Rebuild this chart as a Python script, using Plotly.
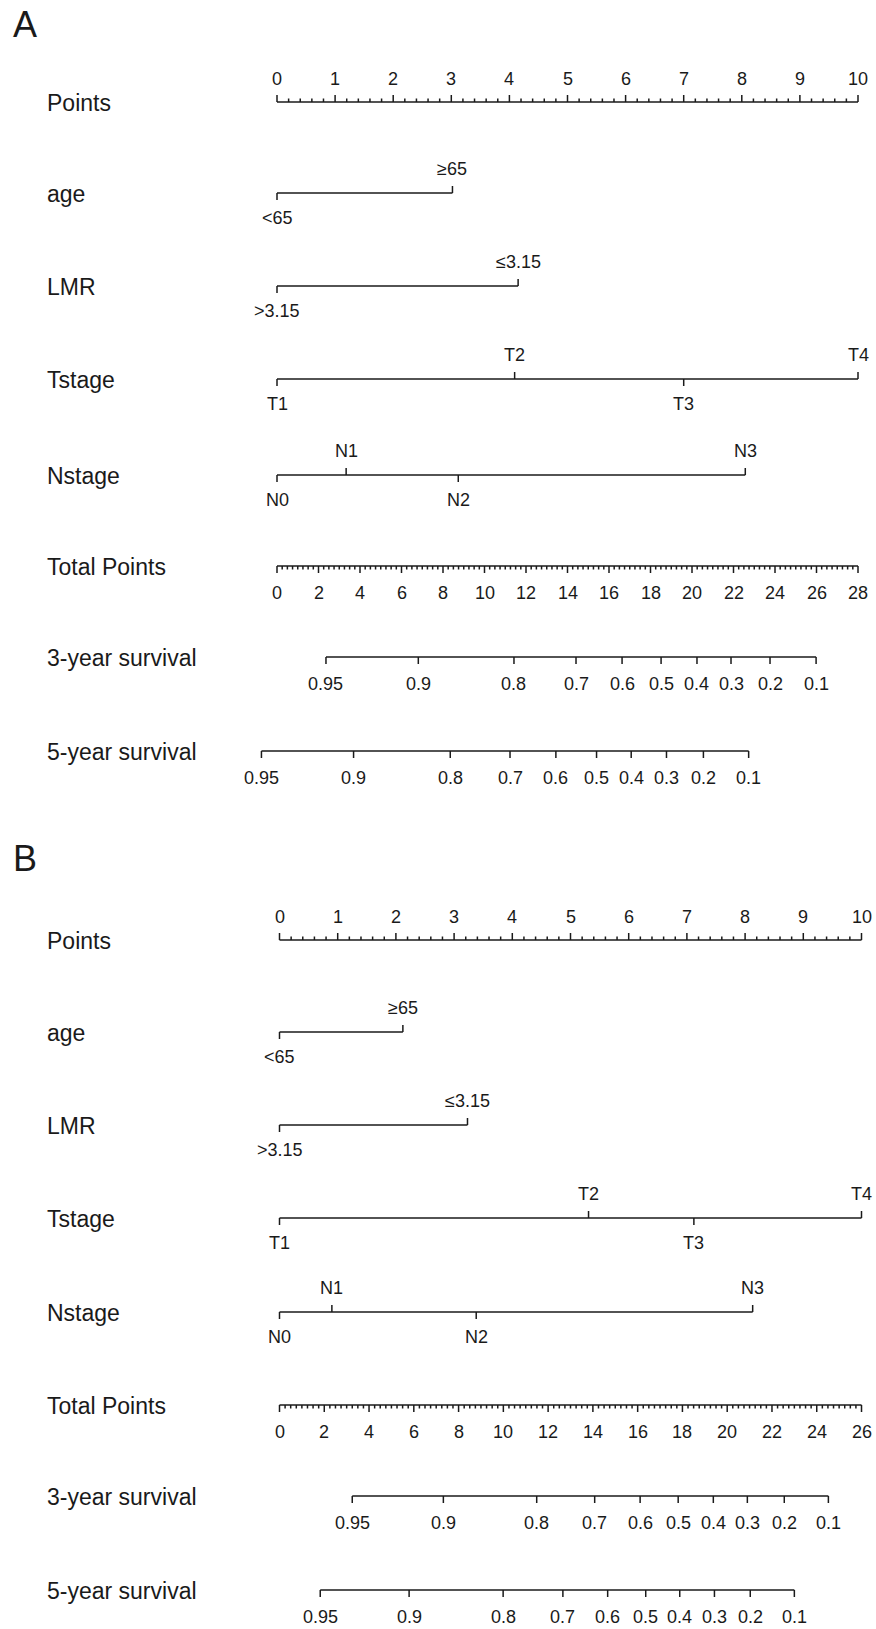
import numpy as np
import plotly.graph_objects as go

# ---------------- DATA ----------------
row_labels = ["Points", "age", "LMR", "Tstage", "Nstage", "Total Points",
              "3-year survival", "5-year survival"]

points_ticks = list(range(0, 11))

age_levels = ["<65", "≥65"]
age_points_A = [0, 3.02]
age_points_B = [0, 2.12]

lmr_levels = [">3.15", "≤3.15"]
lmr_points_A = [0, 4.15]
lmr_points_B = [0, 3.23]

t_levels = ["T1", "T2", "T3", "T4"]
t_points_A = [0, 4.09, 7.00, 10]
t_points_B = [0, 5.31, 7.12, 10]

n_levels = ["N0", "N1", "N2", "N3"]
n_points_A = [0, 1.19, 3.12, 8.06]
n_points_B = [0, 0.90, 3.38, 8.13]

total_ticks_A = list(range(0, 29, 2))
total_ticks_B = list(range(0, 27, 2))

surv_labels = ["0.95", "0.9", "0.8", "0.7", "0.6", "0.5", "0.4", "0.3", "0.2", "0.1"]
surv3_total_A = [2.36, 6.81, 11.42, 14.41, 16.63, 18.51, 20.24, 21.88, 23.76, 25.98]
surv5_total_A = [-0.75, 3.69, 8.35, 11.23, 13.44, 15.40, 17.07, 18.77, 20.55, 22.73]
surv3_total_B = [3.25, 7.32, 11.49, 14.08, 16.11, 17.81, 19.38, 20.90, 22.55, 24.52]
surv5_total_B = [1.82, 5.79, 9.99, 12.66, 14.66, 16.36, 17.88, 19.43, 21.03, 23.00]

# ---------------- LAYOUT / STYLE ----------------
W, H = 876, 1629
FONT = "Arial, Liberation Sans, Helvetica, sans-serif"
INK = "#1a1a1a"
LW = 1.5
LAB_SIZE = 23
TICK_SIZE = 18
TICK = 7
MINOR = 3.5

# label side for each level (-1 = above line, +1 = below line)
age_sides = [1, -1]
lmr_sides = [1, -1]
t_sides = [1, -1, 1, -1]
n_sides = [1, -1, 1, -1]

panels = {
    "A": dict(letter_y=25, rows=[102, 193, 286, 379, 475, 566, 657, 751],
              px0=277.0, px_pts=58.1, px_tot=20.75,
              xp="x", xt="x2",
              age=age_points_A, lmr=lmr_points_A, t=t_points_A, n=n_points_A,
              total=total_ticks_A, s3=surv3_total_A, s5=surv5_total_A),
    "B": dict(letter_y=858, rows=[940, 1032, 1125, 1218, 1312, 1405, 1496, 1590],
              px0=279.5, px_pts=58.2, px_tot=22.385,
              xp="x3", xt="x4",
              age=age_points_B, lmr=lmr_points_B, t=t_points_B, n=n_points_B,
              total=total_ticks_B, s3=surv3_total_B, s5=surv5_total_B),
}

fig = go.Figure()
annotations = []


def add_lines(xs, ys, xref):
    fig.add_trace(go.Scatter(x=xs, y=ys, mode="lines", xaxis=xref, yaxis="y",
                             line=dict(color=INK, width=LW), hoverinfo="skip",
                             showlegend=False))


def add_text(x, y, text, xref, size=TICK_SIZE, xanchor="center"):
    annotations.append(dict(x=x, y=y, xref=xref, yref="y", text=text,
                            showarrow=False, xanchor=xanchor, yanchor="middle",
                            font=dict(family=FONT, size=size, color=INK)))


def ax_name(ref):
    return ref.replace("x", "xaxis") if ref != "x" else "xaxis"


for key, p in panels.items():
    rows = p["rows"]
    xp, xt = p["xp"], p["xt"]

    # panel letter
    annotations.append(dict(x=25 / W, y=1 - p["letter_y"] / H, xref="paper", yref="paper",
                            text=key, showarrow=False, xanchor="center", yanchor="middle",
                            font=dict(family=FONT, size=36, color=INK)))

    # row labels
    for lab, yy in zip(row_labels, rows):
        annotations.append(dict(x=45 / W, y=yy + 1, xref="paper", yref="y", text=lab,
                                showarrow=False, xanchor="left", yanchor="middle",
                                font=dict(family=FONT, size=LAB_SIZE, color=INK)))

    # ---- Points ruler ----
    y0 = rows[0]
    add_lines([points_ticks[0], points_ticks[-1]], [y0, y0], xp)
    tx, ty = [], []
    for v in points_ticks:
        tx += [v, v, None]
        ty += [y0, y0 - TICK, None]
    for v in np.arange(0, 10.0001, 0.2):
        if abs(v - round(v)) > 1e-6:
            tx += [v, v, None]
            ty += [y0, y0 - MINOR, None]
    add_lines(tx, ty, xp)
    for v in points_ticks:
        add_text(v, y0 - 23, str(v), xp)

    # ---- variable rows ----
    for (levels, pts, sides), yy in zip(
            [(age_levels, p["age"], age_sides), (lmr_levels, p["lmr"], lmr_sides),
             (t_levels, p["t"], t_sides), (n_levels, p["n"], n_sides)], rows[1:5]):
        add_lines([min(pts), max(pts)], [yy, yy], xp)
        tx, ty = [], []
        for v, s in zip(pts, sides):
            tx += [v, v, None]
            ty += [yy, yy + s * TICK, None]
        add_lines(tx, ty, xp)
        for v, s, lab in zip(pts, sides, levels):
            add_text(v, yy + (25 if s > 0 else -24), lab, xp)

    # ---- Total points ruler ----
    yt = rows[5]
    tot = p["total"]
    add_lines([tot[0], tot[-1]], [yt, yt], xt)
    tx, ty = [], []
    for v in tot:
        tx += [v, v, None]
        ty += [yt, yt + TICK, None]
    for v in np.arange(tot[0], tot[-1] + 1e-6, 0.25):
        if abs(v / 2 - round(v / 2)) > 1e-6:
            tx += [v, v, None]
            ty += [yt, yt + MINOR, None]
    add_lines(tx, ty, xt)
    for v in tot:
        add_text(v, yt + 27, str(v), xt)

    # ---- survival rows ----
    for vals, yy in [(p["s3"], rows[6]), (p["s5"], rows[7])]:
        add_lines([min(vals), max(vals)], [yy, yy], xt)
        tx, ty = [], []
        for v in vals:
            tx += [v, v, None]
            ty += [yy, yy + TICK, None]
        add_lines(tx, ty, xt)
        for v, lab in zip(vals, surv_labels):
            add_text(v, yy + 27, lab, xt)

# ---- axes: each x axis maps its scale onto pixels ----
layout_axes = {}
for key, p in panels.items():
    r_pts = [-p["px0"] / p["px_pts"], (W - p["px0"]) / p["px_pts"]]
    r_tot = [-p["px0"] / p["px_tot"], (W - p["px0"]) / p["px_tot"]]
    for ref, rng in [(p["xp"], r_pts), (p["xt"], r_tot)]:
        ax = dict(range=rng, visible=False, domain=[0, 1], anchor="y", fixedrange=True)
        if ref != "x":
            ax["overlaying"] = "x"
        layout_axes[ax_name(ref)] = ax

fig.update_layout(
    width=W, height=H,
    margin=dict(l=0, r=0, t=0, b=0),
    paper_bgcolor="white", plot_bgcolor="white",
    yaxis=dict(range=[H, 0], visible=False, domain=[0, 1], fixedrange=True),
    annotations=annotations,
    showlegend=False,
    **layout_axes,
)

fig.write_html(
    "out.html",
    config={"displayModeBar": False},
    post_script="document.body.style.margin='0';document.body.style.overflow='hidden';",
)
